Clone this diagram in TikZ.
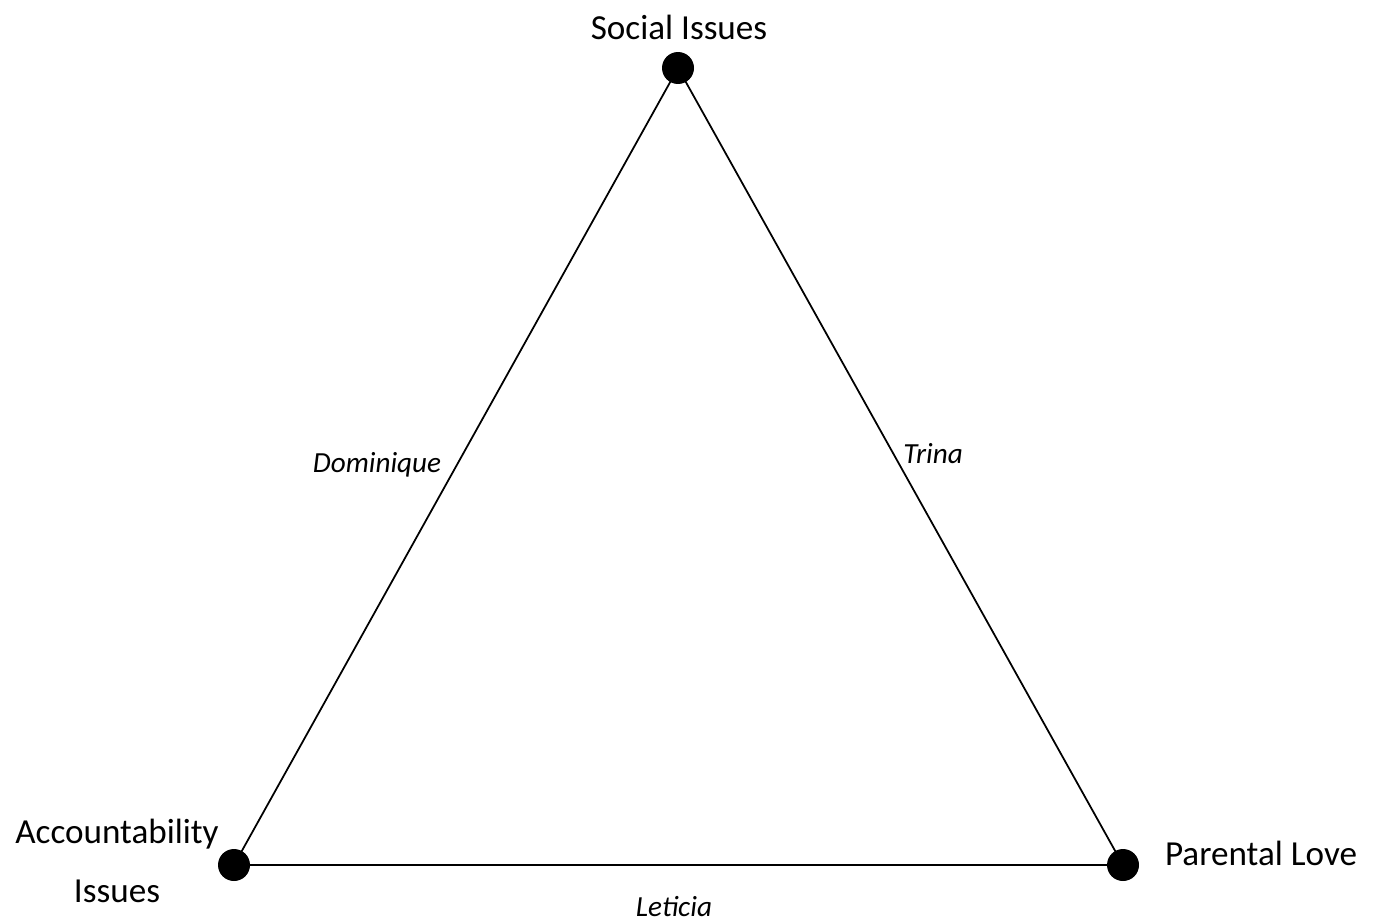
\documentclass[tikz,border=0pt]{standalone}
\usepackage{fontspec}
\setmainfont{Carlito}
\usetikzlibrary{positioning}

\begin{document}
\begin{tikzpicture}[
    x=0.02cm, y=-0.02cm,
    vertex/.style={circle, fill=black, inner sep=0pt, minimum size=0.64cm},
    corner/.style={font=\fontsize{20}{24}\selectfont, align=center, inner sep=0pt},
    side/.style={font=\fontsize{16.6}{20}\selectfont\itshape, inner sep=0pt},
    edge/.style={line width=1pt},
]
\useasboundingbox (0,0) rectangle (1378,923);

% Corners of the triangle
\node[vertex] (social) at (678,68) {};
\node[vertex] (account) at (234,865) {};
\node[vertex] (parental) at (1123,865) {};

% Sides
\draw[edge] (social.center) -- (account.center);
\draw[edge] (social.center) -- (parental.center);
\draw[edge] (account.center) -- (parental.center);

% Corner labels
\node[corner] (l_social) at (679,27) {Social Issues};
\node[corner] (l_account) at (117,834) {Accountability};
\node[corner] (l_account2) at (117,891) {Issues};
\node[corner] (l_parental) at (1261,853) {Parental Love};

% Side labels
\node[side] (dominique) at (377,465) {Dominique};
\node[side] (trina) at (933,454) {Trina};
\node[side] (leticia) at (674,907) {Leticia};

\end{tikzpicture}
\end{document}
